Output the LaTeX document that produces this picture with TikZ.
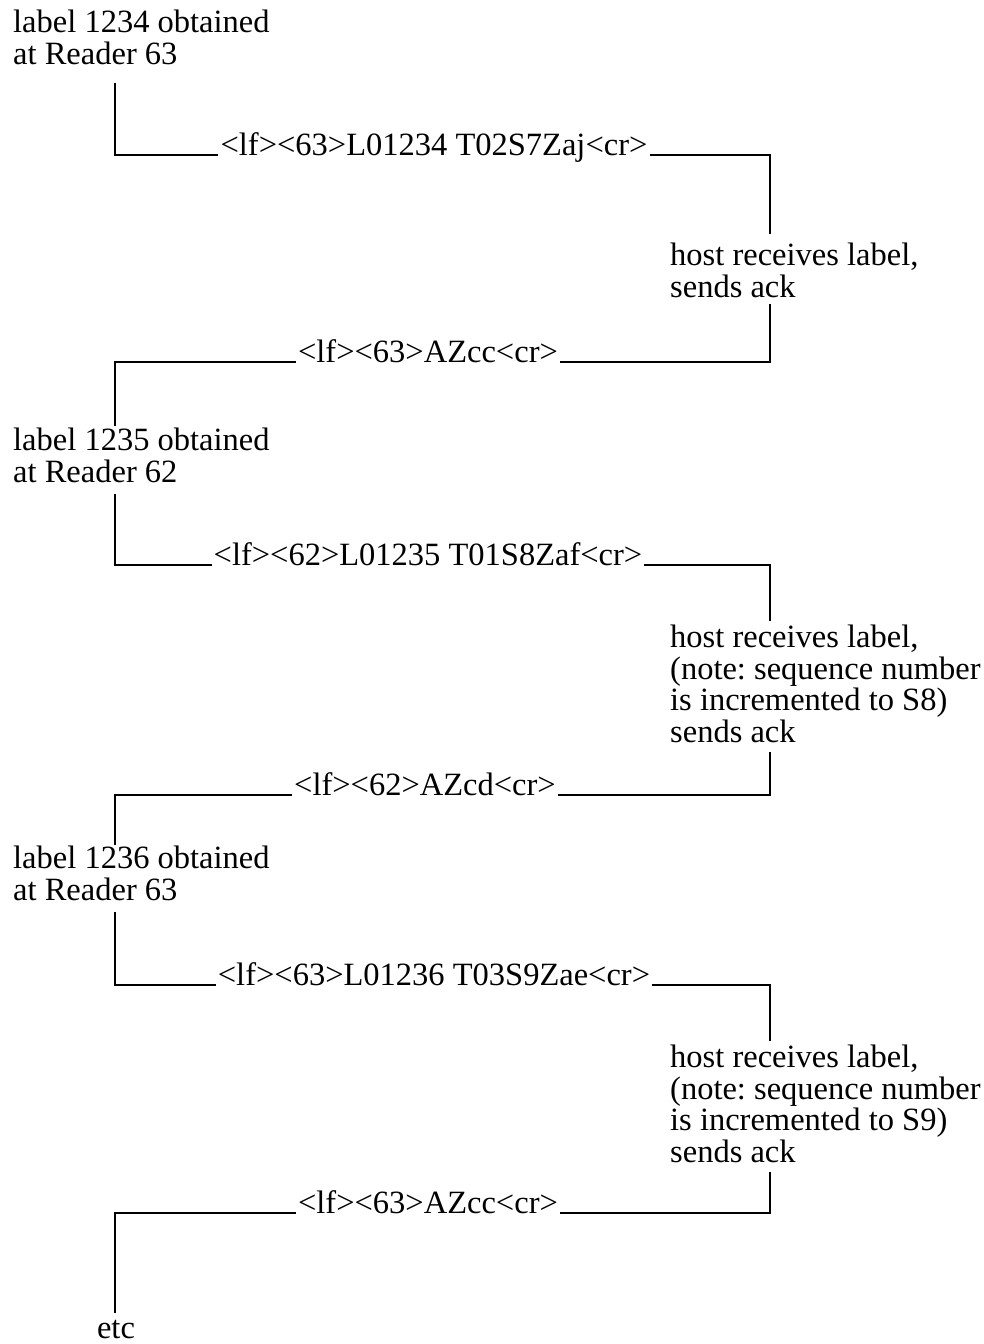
\documentclass[tikz,border=0pt]{standalone}
\usepackage{fontspec}
\setmainfont{Liberation Serif}
\frenchspacing
\begin{document}
\begin{tikzpicture}[x=1pt,y=-1pt,
  every node/.style={font=\fontsize{32.5}{31.5}\selectfont\frenchspacing},
  txt/.style={align=left,inner xsep=0pt,inner ysep=9pt,anchor=north west},
  msg/.style={inner xsep=2pt,inner ysep=0pt,anchor=base},
  conn/.style={line width=2.5pt,line join=miter}]
\useasboundingbox (0,0) rectangle (984,1344);
% text blocks
\node[txt] (A) at (13,1) {label 1234 obtained\\at Reader 63};
\node[txt] (H1) at (670,234) {host receives label,\\sends ack};
\node[txt] (B) at (13,419) {label 1235 obtained\\at Reader 62};
\node[txt] (H2) at (670,616) {host receives label,\\(note: sequence number\\is incremented to S8)\\sends ack};
\node[txt] (C) at (13,837) {label 1236 obtained\\at Reader 63};
\node[txt] (H3) at (670,1036) {host receives label,\\(note: sequence number\\is incremented to S9)\\sends ack};
\node[inner ysep=9pt,anchor=base] (etc) at (116,1338) {etc};
% messages
\node[msg] (m1) at (434,155) {<lf><63>L01234 T02S7Zaj<cr>};
\node[msg] (m2) at (428,362) {<lf><63>AZcc<cr>};
\node[msg] (m3) at (428,565) {<lf><62>L01235 T01S8Zaf<cr>};
\node[msg] (m4) at (425,795) {<lf><62>AZcd<cr>};
\node[msg] (m5) at (434,985) {<lf><63>L01236 T03S9Zae<cr>};
\node[msg] (m6) at (428,1213) {<lf><63>AZcc<cr>};
% corners
\coordinate (c1) at (115,155);
\coordinate (c2) at (770,155);
\coordinate (c3) at (770,362);
\coordinate (c4) at (115,362);
\coordinate (c5) at (115,565);
\coordinate (c6) at (770,565);
\coordinate (c7) at (770,795);
\coordinate (c8) at (115,795);
\coordinate (c9) at (115,985);
\coordinate (c10) at (770,985);
\coordinate (c11) at (770,1213);
\coordinate (c12) at (115,1213);
% connectors
\draw[conn] ([yshift=-9pt]A.south -| c1) -- (c1) -- (m1.base west);
\draw[conn] (m1.base east) -- (c2) -- (H1.north -| c2);
\draw[conn] ([yshift=3pt]H1.south -| c3) -- (c3) -- (m2.base east);
\draw[conn] (m2.base west) -- (c4) -- ([yshift=-7pt]B.north -| c4);
\draw[conn] ([yshift=-2pt]B.south -| c5) -- (c5) -- (m3.base west);
\draw[conn] (m3.base east) -- (c6) -- ([yshift=-5pt]H2.north -| c6);
\draw[conn] (H2.south -| c7) -- (c7) -- (m4.base east);
\draw[conn] (m4.base west) -- (c8) -- ([yshift=-8pt]C.north -| c8);
\draw[conn] ([yshift=-2pt]C.south -| c9) -- (c9) -- (m5.base west);
\draw[conn] (m5.base east) -- (c10) -- ([yshift=-5pt]H3.north -| c10);
\draw[conn] (H3.south -| c11) -- (c11) -- (m6.base east);
\draw[conn] (m6.base west) -- (c12) -- ([yshift=-2pt]etc.north -| c12);
\end{tikzpicture}
\end{document}
